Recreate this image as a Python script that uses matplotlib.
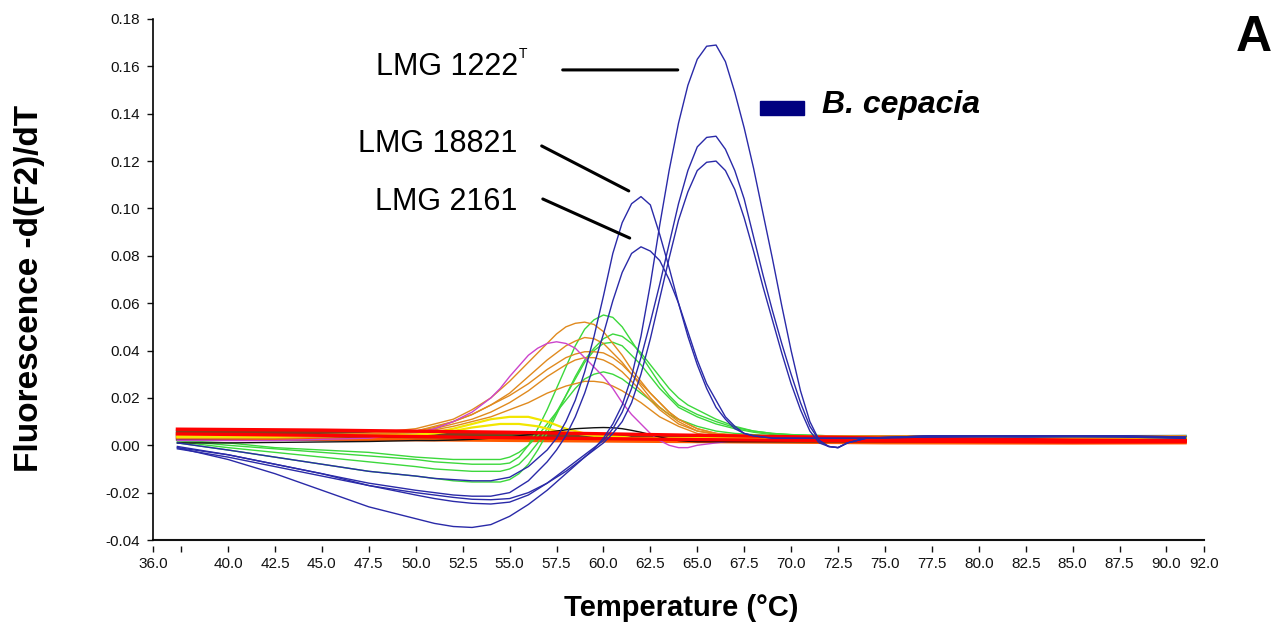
import matplotlib
matplotlib.use('Agg')
import matplotlib.pyplot as plt
from matplotlib.patches import Rectangle

plt.rcParams['font.family'] = ['Liberation Sans', 'DejaVu Sans']

# temperature grid (deg C) for the B. cepacia curves
temps_b = [37.3, 40, 42.5, 45, 47.5, 50, 51, 52, 53, 54, 55, 56,
           57, 57.5, 58, 58.5, 59, 59.5, 60, 60.5, 61, 61.5, 62, 62.5, 63, 63.5, 64, 64.5,
           65, 65.5, 66, 66.5, 67, 67.5, 68, 68.5, 69, 69.5, 70, 70.5, 71, 71.5, 72, 72.5, 73,
           74, 77.5, 82.5, 87.5, 91.0]

lmg1222 = [-0.001, -0.006, -0.012, -0.019, -0.026, -0.031, -0.033, -0.0343, -0.0347, -0.0335, -0.030, -0.025,
           -0.019, -0.0155, -0.012, -0.0085, -0.005, -0.0015, 0.003, 0.009, 0.017, 0.029, 0.046, 0.068,
           0.093, 0.116, 0.136, 0.152, 0.163, 0.1685, 0.169, 0.162, 0.149, 0.134, 0.117, 0.098,
           0.079, 0.059, 0.040, 0.023, 0.010, 0.002, -0.0005, -0.001, 0.001,
           0.003, 0.004, 0.004, 0.004, 0.003]
blue_b = [-0.001, -0.004, -0.008, -0.012, -0.017, -0.021, -0.0225, -0.0237, -0.0245, -0.0248, -0.024, -0.021,
          -0.016, -0.013, -0.010, -0.007, -0.004, -0.001, 0.002, 0.007, 0.014, 0.024, 0.037, 0.052,
          0.068, 0.085, 0.102, 0.116, 0.126, 0.130, 0.1305, 0.125, 0.116, 0.104, 0.088, 0.072,
          0.057, 0.043, 0.030, 0.018, 0.008, 0.002, -0.0005, -0.001, 0.001,
          0.003, 0.004, 0.004, 0.0035, 0.003]
blue_c = [-0.0015, -0.005, -0.009, -0.013, -0.017, -0.020, -0.021, -0.022, -0.0228, -0.023, -0.0225, -0.020,
          -0.016, -0.0135, -0.011, -0.008, -0.005, -0.002, 0.001, 0.005, 0.010, 0.018, 0.030, 0.045,
          0.062, 0.079, 0.095, 0.107, 0.116, 0.1195, 0.120, 0.116, 0.108, 0.096, 0.082, 0.067,
          0.053, 0.039, 0.026, 0.015, 0.006, 0.001, -0.0005, -0.001, 0.001,
          0.003, 0.004, 0.0035, 0.0035, 0.003]
lmg18821 = [0.001, -0.002, -0.005, -0.008, -0.011, -0.013, -0.014, -0.0145, -0.015, -0.015, -0.0135, -0.009,
            -0.002, 0.003, 0.010, 0.019, 0.031, 0.046, 0.063, 0.081, 0.094, 0.102, 0.105, 0.1015,
            0.089, 0.075, 0.060, 0.046, 0.034, 0.024, 0.016, 0.011, 0.007, 0.005, 0.004, 0.0035,
            0.003, 0.003, 0.003, 0.003, 0.003, 0.003, 0.003, 0.003, 0.003,
            0.003, 0.0035, 0.004, 0.004, 0.0035]
lmg2161 = [-0.0005, -0.004, -0.008, -0.012, -0.016, -0.019, -0.020, -0.021, -0.0215, -0.0215, -0.020, -0.015,
           -0.007, -0.002, 0.004, 0.012, 0.022, 0.034, 0.047, 0.061, 0.073, 0.081, 0.0838, 0.082,
           0.078, 0.070, 0.060, 0.048, 0.036, 0.026, 0.019, 0.012, 0.008, 0.005, 0.004, 0.0035,
           0.003, 0.003, 0.003, 0.003, 0.003, 0.003, 0.003, 0.003, 0.003,
           0.003, 0.0035, 0.0035, 0.004, 0.0035]

# temperature grid for the other species
temps = [37.3, 40, 42.5, 45, 47.5, 50, 51, 52, 53, 54,
         54.5, 55, 55.5, 56, 56.5, 57, 57.5, 58, 58.5, 59, 59.5, 60, 60.5, 61, 61.5, 62,
         62.5, 63, 63.5, 64, 64.5, 65,
         66, 67, 68, 69, 70, 72, 75, 80, 85, 91.0]

green_a = [0.002, 0.000, -0.0015, -0.003, -0.0045, -0.006, -0.007, -0.0075, -0.008, -0.008,
           -0.008, -0.0075, -0.005, 0.000, 0.007, 0.015, 0.024, 0.033, 0.042, 0.049, 0.053, 0.055,
           0.054, 0.050, 0.044, 0.038, 0.032, 0.026, 0.021, 0.017, 0.015, 0.013,
           0.010, 0.0075, 0.006, 0.005, 0.0045, 0.004, 0.004, 0.004, 0.004, 0.004]
green_b = [0.001, -0.002, -0.005, -0.008, -0.011, -0.013, -0.014, -0.015, -0.0155, -0.0155,
           -0.0155, -0.0145, -0.012, -0.008, -0.002, 0.005, 0.013, 0.021, 0.029, 0.036, 0.041, 0.045,
           0.047, 0.046, 0.043, 0.039, 0.034, 0.029, 0.024, 0.020, 0.017, 0.015,
           0.011, 0.008, 0.006, 0.005, 0.0045, 0.004, 0.004, 0.004, 0.004, 0.004]
green_c = [0.0015, -0.001, -0.003, -0.005, -0.007, -0.009, -0.010, -0.0105, -0.011, -0.011,
           -0.011, -0.010, -0.008, -0.004, 0.001, 0.007, 0.014, 0.021, 0.028, 0.035, 0.040, 0.043,
           0.0435, 0.042, 0.038, 0.034, 0.029, 0.024, 0.020, 0.016, 0.014, 0.012,
           0.009, 0.007, 0.0055, 0.0045, 0.004, 0.004, 0.004, 0.004, 0.004, 0.004]
green_d = [0.002, 0.001, -0.001, -0.002, -0.003, -0.005, -0.0055, -0.006, -0.006, -0.006,
           -0.006, -0.005, -0.003, 0.000, 0.004, 0.009, 0.014, 0.019, 0.024, 0.028, 0.030, 0.031,
           0.030, 0.028, 0.025, 0.022, 0.019, 0.016, 0.013, 0.011, 0.0095, 0.008,
           0.006, 0.005, 0.0045, 0.004, 0.004, 0.004, 0.004, 0.004, 0.004, 0.004]
orange_a = [0.004, 0.0035, 0.0035, 0.004, 0.005, 0.007, 0.009, 0.011, 0.015, 0.020,
            0.0235, 0.027, 0.031, 0.035, 0.039, 0.043, 0.047, 0.050, 0.0515, 0.052, 0.051, 0.048,
            0.043, 0.038, 0.032, 0.027, 0.022, 0.018, 0.014, 0.011, 0.009, 0.007,
            0.005, 0.0045, 0.004, 0.004, 0.004, 0.004, 0.004, 0.004, 0.004, 0.004]
orange_b = [0.003, 0.003, 0.003, 0.0035, 0.0045, 0.006, 0.008, 0.010, 0.013, 0.017,
            0.0195, 0.022, 0.0255, 0.029, 0.0325, 0.036, 0.039, 0.042, 0.044, 0.0455, 0.045, 0.043,
            0.039, 0.035, 0.030, 0.025, 0.020, 0.016, 0.013, 0.010, 0.008, 0.006,
            0.005, 0.004, 0.004, 0.004, 0.004, 0.004, 0.004, 0.004, 0.004, 0.004]
orange_c = [0.0035, 0.003, 0.003, 0.0035, 0.004, 0.0055, 0.007, 0.009, 0.011, 0.014,
            0.016, 0.018, 0.0205, 0.023, 0.026, 0.029, 0.0315, 0.034, 0.036, 0.037, 0.037, 0.036,
            0.034, 0.031, 0.027, 0.023, 0.019, 0.015, 0.012, 0.009, 0.0075, 0.006,
            0.0045, 0.004, 0.004, 0.004, 0.004, 0.004, 0.004, 0.004, 0.004, 0.004]
orange_d = [0.004, 0.0035, 0.0035, 0.004, 0.0045, 0.0055, 0.0065, 0.008, 0.010, 0.012,
            0.0135, 0.015, 0.0165, 0.018, 0.020, 0.022, 0.0235, 0.025, 0.026, 0.027, 0.027, 0.0265,
            0.025, 0.023, 0.0205, 0.018, 0.015, 0.012, 0.010, 0.008, 0.0065, 0.005,
            0.004, 0.004, 0.004, 0.004, 0.004, 0.004, 0.004, 0.004, 0.004, 0.004]
orange_e = [0.0045, 0.004, 0.004, 0.0045, 0.005, 0.006, 0.0075, 0.010, 0.013, 0.017,
            0.019, 0.021, 0.0235, 0.026, 0.029, 0.032, 0.0345, 0.037, 0.0385, 0.0395, 0.0395, 0.039,
            0.037, 0.034, 0.030, 0.026, 0.022, 0.018, 0.014, 0.011, 0.009, 0.007,
            0.005, 0.004, 0.004, 0.004, 0.004, 0.004, 0.004, 0.004, 0.004, 0.004]
magenta_a = [0.002, 0.002, 0.002, 0.0025, 0.003, 0.005, 0.007, 0.010, 0.014, 0.020,
             0.024, 0.029, 0.0335, 0.038, 0.041, 0.043, 0.0437, 0.043, 0.041, 0.037, 0.033, 0.029,
             0.024, 0.018, 0.013, 0.009, 0.005, 0.002, 0.000, -0.001, -0.001, 0.000,
             0.001, 0.002, 0.002, 0.002, 0.002, 0.002, 0.002, 0.002, 0.002, 0.002]
yellow_a = [0.004, 0.004, 0.004, 0.004, 0.004, 0.0045, 0.0055, 0.007, 0.009, 0.011,
            0.0115, 0.012, 0.012, 0.012, 0.011, 0.010, 0.0085, 0.007, 0.006, 0.005, 0.0045, 0.004,
            0.0038, 0.0035, 0.003, 0.003, 0.003, 0.003, 0.003, 0.003, 0.003, 0.003,
            0.003, 0.003, 0.003, 0.003, 0.003, 0.003, 0.003, 0.003, 0.003, 0.003]
yellow_b = [0.0035, 0.0035, 0.0035, 0.004, 0.004, 0.0045, 0.005, 0.006, 0.0075, 0.0085,
            0.009, 0.009, 0.009, 0.0085, 0.008, 0.007, 0.006, 0.0055, 0.005, 0.0045, 0.004, 0.004,
            0.0035, 0.0035, 0.003, 0.003, 0.003, 0.003, 0.003, 0.003, 0.003, 0.003,
            0.003, 0.003, 0.003, 0.003, 0.003, 0.003, 0.003, 0.003, 0.003, 0.003]
black_a = [0.001, 0.001, 0.0012, 0.0014, 0.0016, 0.002, 0.002, 0.0022, 0.0025, 0.003,
           0.0032, 0.0035, 0.004, 0.0045, 0.005, 0.0055, 0.006, 0.0065, 0.007, 0.0072, 0.0074, 0.0075,
           0.0074, 0.007, 0.0063, 0.0055, 0.0045, 0.0035, 0.0027, 0.002, 0.0017, 0.0015,
           0.0015, 0.0015, 0.0015, 0.0015, 0.0015, 0.0015, 0.0015, 0.0015, 0.0015, 0.0015]

# flat (no product) traces on a coarse grid
base_t = [37.3, 45, 55, 65, 75, 85, 91.0]
base_red_a = [0.0068, 0.0064, 0.0055, 0.0042, 0.0030, 0.0022, 0.0020]
base_red_b = [0.0048, 0.0042, 0.0032, 0.0024, 0.0018, 0.0014, 0.0015]
base_brown_a = [0.0060, 0.0056, 0.0048, 0.0038, 0.0030, 0.0026, 0.0025]
base_brown_b = [0.0042, 0.0038, 0.0032, 0.0026, 0.0022, 0.0020, 0.0020]
base_dkgreen = [0.0053, 0.0049, 0.0043, 0.0036, 0.0032, 0.0030, 0.0030]
base_olive = [0.0038, 0.0036, 0.0033, 0.0030, 0.0028, 0.0027, 0.0027]
base_teal = [0.0030, 0.0029, 0.0027, 0.0028, 0.0032, 0.0036, 0.0038]
base_orangered = [0.0032, 0.0026, 0.0020, 0.0015, 0.0010, 0.0009, 0.0010]
base_purple = [0.0025, 0.0025, 0.0026, 0.0028, 0.0030, 0.0032, 0.0032]

xtick_vals = [36, 37.5, 40, 42.5, 45, 47.5, 50, 52.5, 55, 57.5, 60, 62.5, 65, 67.5, 70,
              72.5, 75, 77.5, 80, 82.5, 85, 87.5, 90, 92]
xtick_labels = ['36.0', ''] + ['%.1f' % v for v in xtick_vals[2:]]
ytick_vals = [-0.04, -0.02, 0.0, 0.02, 0.04, 0.06, 0.08, 0.10, 0.12, 0.14, 0.16, 0.18]
ytick_labels = ['-0.04', '-0.02', '0.00', '0.02', '0.04', '0.06', '0.08', '0.10', '0.12',
                '0.14', '0.16', '0.18']

BLUE = '#2a2aa8'
GREEN = '#3cd83c'
ORANGE = '#e08a1e'

fig = plt.figure(figsize=(12.87, 6.35), dpi=100)
ax = fig.add_axes([153 / 1287, 95 / 635, 1051 / 1287, 521 / 635])

lw = 1.0
for ys, c in [(base_teal, '#2a8a8a'), (base_purple, '#7a1a7a'), (base_olive, '#7a8a1a'),
              (base_dkgreen, '#1e6e2e'), (base_brown_b, '#8b3a1a'), (base_brown_a, '#8b3a1a'),
              (base_orangered, '#ff5a00')]:
    ax.plot(base_t, ys, color=c, lw=2.2)

for ys in [green_a, green_b, green_c, green_d]:
    ax.plot(temps, ys, color=GREEN, lw=lw)
for ys in [orange_a, orange_b, orange_c, orange_d, orange_e]:
    ax.plot(temps, ys, color=ORANGE, lw=lw)
ax.plot(temps, magenta_a, color='#cc44cc', lw=lw)
ax.plot(temps, yellow_a, color='#f2e600', lw=1.6)
ax.plot(temps, yellow_b, color='#f2e600', lw=1.6)
ax.plot(temps, black_a, color='#111111', lw=lw)

for ys in [base_red_a, base_red_b]:
    ax.plot(base_t, ys, color='#ff0000', lw=2.4)

for ys in [lmg2161, lmg18821, blue_c, blue_b, lmg1222]:
    ax.plot(temps_b, ys, color=BLUE, lw=lw)

ax.set_xlim(36, 92)
ax.set_ylim(-0.04, 0.18)
ax.set_xticks(xtick_vals)
ax.set_xticklabels(xtick_labels)
ax.set_yticks(ytick_vals)
ax.set_yticklabels(ytick_labels)
ax.tick_params(axis='both', direction='out', length=4.3, width=1.0, labelsize=11,
               colors='#111111')
ax.tick_params(axis='x', pad=3.5)
ax.tick_params(axis='y', pad=5)

for s in ['top', 'right']:
    ax.spines[s].set_visible(False)
ax.spines['left'].set_linewidth(1.2)
ax.spines['bottom'].set_position(('outward', 4.3))
ax.spines['bottom'].set_visible(False)
ax.axhline(-0.04, color='#111111', lw=1.5, clip_on=False)

# axis titles
fig.text(681 / 1287, 1 - 608 / 635, 'Temperature (°C)', fontsize=21, fontweight='bold',
         ha='center', va='center')
fig.text(30 / 1287, 1 - 288 / 635, 'Fluorescence -d(F2)/dT', fontsize=24,
         fontweight='bold', rotation=90, ha='center', va='center')

# strain labels with pointer lines
ax.text(55.44, 0.1564, 'LMG 1222', fontsize=22, ha='right', va='baseline')
ax.text(55.49, 0.1682, 'T', fontsize=10, ha='left', va='top')
ax.text(55.44, 0.1239, 'LMG 18821', fontsize=22, ha='right', va='baseline')
ax.text(55.44, 0.0994, 'LMG 2161', fontsize=22, ha='right', va='baseline')
ax.annotate('', xy=(63.96, 0.1585), xytext=(57.83, 0.1585),
            arrowprops=dict(arrowstyle='-', lw=2.2, color='black', shrinkA=0, shrinkB=0))
ax.annotate('', xy=(61.35, 0.1074), xytext=(56.71, 0.1264),
            arrowprops=dict(arrowstyle='-', lw=2.2, color='black', shrinkA=0, shrinkB=0))
ax.annotate('', xy=(61.40, 0.0875), xytext=(56.77, 0.1040),
            arrowprops=dict(arrowstyle='-', lw=2.2, color='black', shrinkA=0, shrinkB=0))

# species key
fig.patches.append(Rectangle((760 / 1287, 1 - 115 / 635), 44 / 1287, 14 / 635,
                             transform=fig.transFigure, color='#000080'))
fig.text(822 / 1287, 1 - 113 / 635, 'B. cepacia', fontsize=23, fontweight='bold',
         fontstyle='italic', ha='left', va='baseline')

fig.text(1236 / 1287, 1 - 51 / 635, 'A', fontsize=36, fontweight='bold',
         ha='left', va='baseline')

fig.savefig('out.png', dpi=100, facecolor='white')
